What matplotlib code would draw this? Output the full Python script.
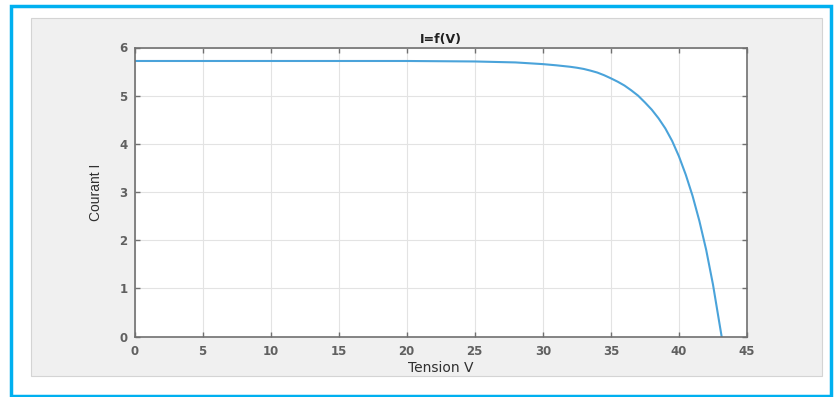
import matplotlib.pyplot as plt
from matplotlib.patches import Rectangle

# courbe I=f(V)
tension = [0, 5, 10, 15, 20, 25, 28, 30, 31, 32, 32.5, 33, 33.5, 34, 34.5, 35, 35.5, 36, 36.5,
           37, 37.5, 38, 38.5, 39, 39.5, 40, 40.5, 41, 41.5, 42, 42.5, 43, 43.13]
courant = [5.72, 5.72, 5.72, 5.72, 5.72, 5.71, 5.69, 5.655, 5.63, 5.60, 5.58, 5.555, 5.52, 5.48,
           5.425, 5.36, 5.29, 5.21, 5.11, 5.00, 4.86, 4.71, 4.53, 4.32, 4.06, 3.74, 3.36, 2.92,
           2.40, 1.80, 1.08, 0.23, 0.01]
xticks = list(range(0, 46, 5))
yticks = list(range(0, 7))

fig = plt.figure(figsize=(8.34, 3.97), dpi=100)
fig.patch.set_facecolor('white')

W, H = 834, 397
# cadre bleu
fig.patches.append(Rectangle((10.5 / W, 1 - 395.5 / H), 820 / W, 390 / H, transform=fig.transFigure,
                             fill=False, edgecolor='#00B0F0', linewidth=2.5, zorder=-2))
# fond gris de la figure
fig.patches.append(Rectangle((31 / W, 1 - 376 / H), 791 / W, 358 / H, transform=fig.transFigure,
                             facecolor='#F0F0F0', edgecolor='#D4D4D4', linewidth=0.8, zorder=-2))

ax = fig.add_axes([134.5 / W, 1 - 336.5 / H, (747 - 134.5) / W, (336.5 - 47.5) / H])
ax.set_facecolor('white')
ax.plot(tension, courant, color='#4AA3DA', linewidth=1.5, solid_joinstyle='round')

ax.set_xlim(0, 45)
ax.set_ylim(0, 6)
ax.set_xticks(xticks)
ax.set_yticks(yticks)
ax.grid(True, color='#E3E3E3', linewidth=0.8)
ax.set_axisbelow(True)
for s in ax.spines.values():
    s.set_color('#707070')
    s.set_linewidth(1.2)
ax.tick_params(direction='in', top=True, right=True, length=3.5, width=1, color='#707070',
               labelsize=8.5, labelcolor='#606060')
ax.tick_params(axis='x', pad=6)
ax.tick_params(axis='y', pad=5)
for lab in ax.get_xticklabels() + ax.get_yticklabels():
    lab.set_fontweight('bold')

ax.set_title('I=f(V)', fontsize=9, fontweight='bold', color='#202020', pad=3)
ax.set_xlabel('Tension V', fontsize=10, color='#303030', labelpad=2)
ax.set_ylabel('Courant I', fontsize=10, color='#303030', labelpad=12,
              family=['Liberation Sans Narrow', 'Liberation Sans', 'DejaVu Sans'])

fig.savefig('out.png', dpi=100)
